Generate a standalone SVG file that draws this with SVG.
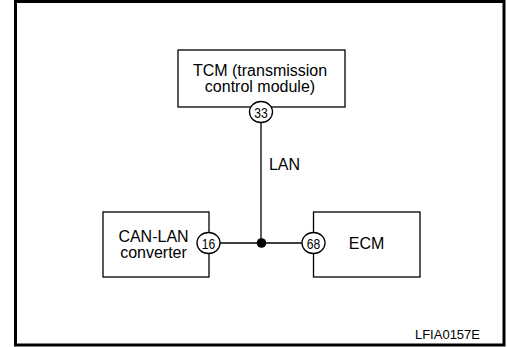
<svg xmlns="http://www.w3.org/2000/svg" width="507" height="347" viewBox="0 0 507 347">
<style>
.box{fill:#fff;stroke:#000;stroke-width:1.3}
.pin{fill:#fff;stroke:#000;stroke-width:1.3}
.wire{fill:none;stroke:#000;stroke-width:1.3}
.lbl{font-family:"Liberation Sans",Arial,sans-serif;font-size:16px;fill:#000;text-anchor:middle}
.num{font-family:"Liberation Sans",Arial,sans-serif;font-size:15px;fill:#000;text-anchor:middle}
.code{font-family:"Liberation Sans",Arial,sans-serif;font-size:13px;fill:#000;text-anchor:end}
</style>
<rect x="0" y="0" width="507" height="347" fill="#fff"/>
<rect x="15.5" y="1.5" width="488.5" height="343.5" fill="none" stroke="#000" stroke-width="3"/>
<g id="connectors">
<line class="wire" x1="261" y1="122" x2="261" y2="243"/>
<line class="wire" x1="220" y1="243" x2="302" y2="243"/>
<circle cx="261.5" cy="243" r="4.8" fill="#000"/>
<text class="lbl" x="284.5" y="170">LAN</text>
</g>
<g id="tcm">
<rect class="box" x="178" y="50" width="167" height="57"/>
<text class="lbl" x="260" y="76">TCM (transmission</text>
<text class="lbl" x="260" y="92">control module)</text>
<ellipse class="pin" cx="261" cy="112" rx="11.5" ry="10.5"/>
<text class="num" x="261" y="117.5" textLength="13.5" lengthAdjust="spacingAndGlyphs">33</text>
</g>
<g id="canlan">
<rect class="box" x="103" y="212" width="106" height="65"/>
<text class="lbl" x="153.5" y="241.5">CAN-LAN</text>
<text class="lbl" x="153.5" y="257.5">converter</text>
<ellipse class="pin" cx="208.5" cy="243" rx="11.5" ry="10.5"/>
<text class="num" x="208.5" y="248.5" textLength="13.5" lengthAdjust="spacingAndGlyphs">16</text>
</g>
<g id="ecm">
<rect class="box" x="313.5" y="212" width="106.5" height="65"/>
<text class="lbl" x="366.5" y="248.5">ECM</text>
<ellipse class="pin" cx="313.5" cy="243" rx="11.5" ry="10.5"/>
<text class="num" x="313.5" y="248.5" textLength="13.5" lengthAdjust="spacingAndGlyphs">68</text>
</g>
<text class="code" x="480" y="339">LFIA0157E</text>
</svg>
